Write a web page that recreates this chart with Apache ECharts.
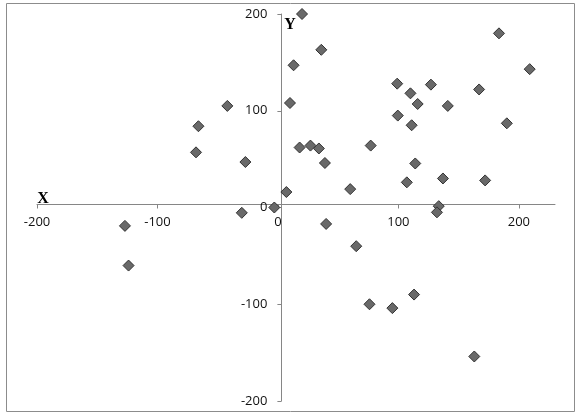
<!DOCTYPE html>
<html>
<head>
<meta charset="utf-8">
<script src="https://cdn.jsdelivr.net/npm/echarts@6/dist/echarts.min.js"></script>
<style>
html,body{margin:0;padding:0;background:#fff;}
#c{width:583px;height:419px;}
</style>
</head>
<body>
<div id="c"></div>
<script>
// Data
var xValues = [-127, -124, -42, -66, -68, -27, -30, -3,
  7, 10, 13, 20, 36, 18, 27, 34, 39, 40,
  60, 65, 77, 76, 95, 99, 127, 110, 116, 141, 99.5, 111, 114, 107, 137, 113, 133.5, 132, 167, 172, 183.5, 190, 209, 163];
var yValues = [-19, -60, 105, 84, 57, 47, -5.5, 0,
  16, 108, 147, 200, 163, 62, 64, 61, 46, -17,
  19, -40, 64, -100, -104, 128, 127, 118, 107, 105, 95, 85, 45.5, 26, 30, -90, 1.4, -5, 122, 28, 180, 87, 143, -154];
var xTicks = [-200, -100, 0, 100, 200];
var yTicks = [-200, -100, 0, 100, 200];

var points = xValues.map(function (x, i) { return [x, yValues[i]]; });

var chart = echarts.init(document.getElementById('c'), null, {renderer: 'canvas'});
var axisColor = '#868686';
var labelFont = {color: '#111', fontSize: 13, fontFamily: 'Open Sans'};
var grid = {left: 37, right: 28, top: 14, bottom: 18, containLabel: false};
chart.setOption({
  animation: false,
  backgroundColor: '#fff',
  grid: grid,
  xAxis: {
    type: 'value', min: -200, max: 230, interval: 100, position: 'bottom', offset: 0,
    axisLine: {show: true, onZero: false, lineStyle: {color: axisColor, width: 1}},
    axisTick: {show: true, length: 4, inside: false, customValues: xTicks, lineStyle: {color: axisColor}},
    axisLabel: Object.assign({margin: 11, customValues: xTicks}, labelFont),
    splitLine: {show: false}
  },
  yAxis: {
    type: 'value', min: -200, max: 200, interval: 100, position: 'left', offset: 0,
    axisLine: {show: true, onZero: false, lineStyle: {color: axisColor, width: 1}},
    axisTick: {show: true, length: 4, inside: false, customValues: yTicks, lineStyle: {color: axisColor}},
    axisLabel: Object.assign({margin: 14, customValues: yTicks}, labelFont),
    splitLine: {show: false}
  },
  graphic: [
    {type: 'rect', z: 100, shape: {x: 6.5, y: 3.5, width: 568, height: 408}, style: {fill: 'none', stroke: '#8c8c8c', lineWidth: 1}},
    {type: 'text', z: 100, x: 43, y: 199, style: {text: 'X', font: 'bold 16px "Liberation Serif"', fill: '#000', align: 'center', verticalAlign: 'middle'}},
    {type: 'text', z: 100, x: 290, y: 25, style: {text: 'Y', font: 'bold 16px "Liberation Serif"', fill: '#000', align: 'center', verticalAlign: 'middle'}}
  ],
  series: [{
    type: 'scatter',
    data: points,
    symbol: 'diamond',
    symbolSize: [11, 11],
    itemStyle: {color: '#696969', borderColor: '#333', borderWidth: 1, opacity: 1}
  }]
});
// Move each axis (line, ticks and labels) onto the other axis's zero, using the library's scales
var origin = chart.convertToPixel({gridIndex: 0}, [0, 0]);
var H = chart.getHeight();
var bottomEdge = H - grid.bottom;
chart.setOption({
  xAxis: {offset: -(bottomEdge - origin[1])},
  yAxis: {offset: -(origin[0] - grid.left)}
});
</script>
</body>
</html>
